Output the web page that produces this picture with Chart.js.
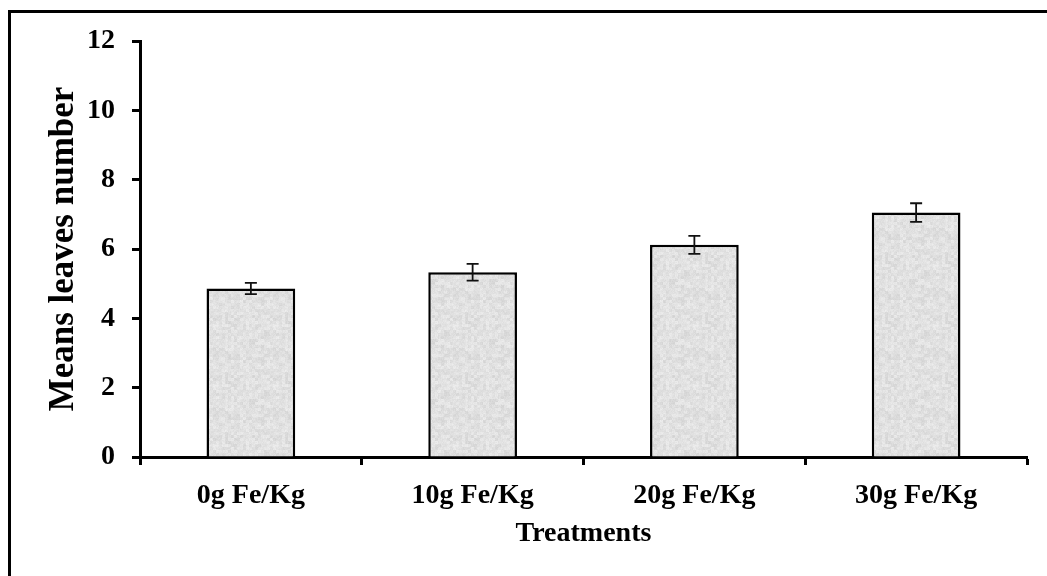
<!DOCTYPE html>
<html>
<head>
<meta charset="utf-8">
<script src="https://cdn.jsdelivr.net/npm/chart.js@4.4.1/dist/chart.umd.min.js"></script>
<style>
  html, body { margin: 0; padding: 0; background: #fff; }
  #wrap { position: relative; width: 1047px; height: 576px; overflow: hidden; }
  #frame { position: absolute; left: 8px; top: 10px; width: 1100px; height: 700px;
           border-left: 3px solid #000; border-top: 3px solid #000; pointer-events: none; }
</style>
</head>
<body>
<div id="wrap">
  <canvas id="myChart" width="1047" height="576"></canvas>
  <div id="frame"></div>
</div>
<script>
// categories and values
const treatments = ['0g Fe/Kg', '10g Fe/Kg', '20g Fe/Kg', '30g Fe/Kg']
const meanLeaves = [4.86, 5.33, 6.12, 7.05]
const leavesError = [0.16, 0.24, 0.26, 0.27]
const yTicks = [0, 2, 4, 6, 8, 10, 12]

const serif = '"Liberation Serif", "Times New Roman", serif'

// speckled grey fill like the original bars (fixed hash, no randomness)
function makeSpeckle() {
    const c = document.createElement('canvas')
    c.width = 60
    c.height = 60
    const g = c.getContext('2d')
    const img = g.createImageData(60, 60)
    for (let y = 0; y < 60; y++) {
        for (let x = 0; x < 60; x++) {
            const h = Math.abs(Math.sin(x * 12.9898 + y * 78.233) * 43758.5453) % 1
            const h2 = Math.abs(Math.sin(Math.floor(x / 3) * 4.1 + Math.floor(y / 3) * 7.7) * 9631.17) % 1
            const v = Math.round(238 - h * 10 - h2 * 18)
            const i = (y * 60 + x) * 4
            img.data[i] = v
            img.data[i + 1] = v
            img.data[i + 2] = v
            img.data[i + 3] = 255
        }
    }
    g.putImageData(img, 0, 0)
    return document.getElementById('myChart').getContext('2d').createPattern(c, 'repeat')
}

const errorBars = {
    id: 'errorBars',
    afterDatasetsDraw(chart) {
        const ctx = chart.ctx
        const yScale = chart.scales.y
        const meta = chart.getDatasetMeta(0)
        ctx.save()
        ctx.strokeStyle = '#111'
        ctx.lineWidth = 1.8
        meta.data.forEach((bar, i) => {
            const top = yScale.getPixelForValue(meanLeaves[i] + leavesError[i])
            const bottom = yScale.getPixelForValue(meanLeaves[i] - leavesError[i])
            const x = bar.x
            ctx.beginPath()
            ctx.moveTo(x, top)
            ctx.lineTo(x, bottom)
            ctx.moveTo(x - 6, top)
            ctx.lineTo(x + 6, top)
            ctx.moveTo(x - 6, bottom)
            ctx.lineTo(x + 6, bottom)
            ctx.stroke()
        })
        ctx.restore()
    }
}

const ctx = document.getElementById('myChart').getContext('2d')

const myChart = new Chart(ctx, {
    type: 'bar',
    data: {
        labels: treatments,
        datasets: [{
            data: meanLeaves,
            backgroundColor: makeSpeckle(),
            borderColor: '#000',
            borderWidth: 2.5,
            categoryPercentage: 0.4,
            barPercentage: 1
        }]
    },
    options: {
        responsive: false,
        animation: false,
        layout: { padding: { left: 0, right: 20, top: 41, bottom: 0 } },
        plugins: { legend: { display: false }, tooltip: { enabled: false } },
        scales: {
            x: {
                offset: true,
                grid: { offset: true, drawOnChartArea: false, drawTicks: true, tickLength: 8, tickWidth: 3, tickColor: '#000' },
                border: { display: true, color: '#000', width: 3 },
                ticks: { color: '#000', padding: 14, font: { family: serif, size: 28, weight: 'bold' }, maxRotation: 0 },
                title: { display: true, text: 'Treatments', color: '#000',
                         font: { family: serif, size: 28, weight: 'bold' }, padding: { top: 25, bottom: 25 } },
                afterFit: scale => { scale.height = 576 - 457 }
            },
            y: {
                min: 0,
                max: 12,
                afterBuildTicks: scale => { scale.ticks = yTicks.map(v => ({ value: v })) },
                grid: { drawOnChartArea: false, drawTicks: true, tickLength: 8, tickWidth: 3, tickColor: '#000' },
                border: { display: true, color: '#000', width: 3 },
                ticks: { color: '#000', padding: 17, font: { family: serif, size: 28, weight: 'bold' } },
                title: { display: true, text: 'Means leaves number', color: '#000',
                         font: { family: serif, size: 35, weight: 'bold' }, padding: { top: 43, bottom: 43 } },
                afterFit: scale => { scale.width = 140 }
            }
        }
    },
    plugins: [errorBars]
})
</script>
</body>
</html>
